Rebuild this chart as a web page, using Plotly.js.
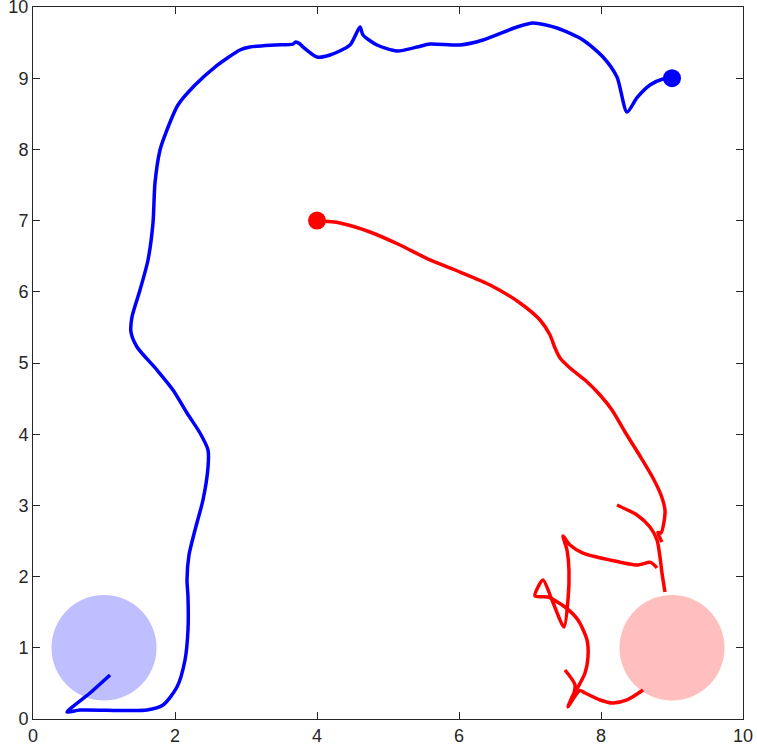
<!DOCTYPE html>
<html>
<head>
<meta charset="utf-8">
<script src="https://cdn.plot.ly/plotly-3.0.1.min.js"></script>
<style>
  body { margin: 0; background: #fff; }
  #chart { width: 757px; height: 749px; }
</style>
</head>
<body>
<div id="chart"></div>
<script>
// blue robot path, from the goal area up to its current spot
let blueX = [1.085, 0.803, 0.479, 0.662, 1.606, 1.831, 2.028, 2.141, 2.183, 2.183, 2.169, 2.197, 2.282, 2.394, 2.465, 2.465, 2.352, 2.169, 1.972, 1.746, 1.465, 1.380, 1.394, 1.507, 1.620, 1.690, 1.718, 1.789, 1.859, 2.042, 2.282, 2.563, 2.915, 3.056, 3.408, 3.662, 3.70, 3.761, 3.803, 4.0, 4.183, 4.465, 4.606, 4.648, 4.845, 5.127, 5.408, 5.592, 6.014, 6.338, 6.817, 7.042, 7.380, 7.746, 8.028, 8.225, 8.366, 8.507, 8.690, 8.873, 9.0];
let blueY = [0.618, 0.365, 0.098, 0.126, 0.126, 0.197, 0.449, 0.829, 1.25, 1.713, 1.952, 2.303, 2.654, 3.076, 3.539, 3.778, 4.017, 4.298, 4.621, 4.902, 5.225, 5.435, 5.646, 6.025, 6.447, 6.966, 7.528, 7.992, 8.202, 8.624, 8.904, 9.157, 9.396, 9.438, 9.466, 9.480, 9.51, 9.48, 9.438, 9.298, 9.326, 9.466, 9.719, 9.607, 9.466, 9.382, 9.438, 9.480, 9.466, 9.537, 9.719, 9.775, 9.705, 9.537, 9.298, 9.017, 8.525, 8.726, 8.904, 8.989, 9.0];

// red robot path, pieces split by null
let redX = [4.0, 4.324, 4.746, 5.169, 5.592, 6.014, 6.437, 6.859, 7.141, 7.282, 7.352, 7.423, 7.563, 7.775, 7.986, 8.155, 8.338, 8.549, 8.732, 8.845, 8.901, 8.887, 8.845, 8.80, 8.859, null,
    8.225, 8.507, 8.690, 8.789, 8.831, 8.859, 8.901, null,
    8.789, 8.70, 8.507, 8.127, 7.746, 7.563, 7.465, 7.521, 7.549, 7.535, 7.479, 7.310, 7.183, 7.070, 7.254, 7.493, 7.676, 7.803, 7.817, 7.775, 7.676, 7.592, 7.535, null,
    7.493, 7.634, 7.600, 7.535, 7.70, 7.775, 7.986, 8.169, 8.366, 8.592];
let redY = [7.0, 6.966, 6.840, 6.657, 6.447, 6.278, 6.096, 5.843, 5.604, 5.393, 5.211, 5.070, 4.930, 4.761, 4.551, 4.340, 4.031, 3.694, 3.385, 3.146, 2.935, 2.767, 2.612, 2.62, 2.486, null,
    3.006, 2.865, 2.697, 2.514, 2.275, 2.051, 1.784, null,
    2.121, 2.20, 2.163, 2.233, 2.331, 2.444, 2.570, 2.374, 2.093, 1.671, 1.292, 1.671, 1.952, 1.728, 1.713, 1.573, 1.390, 1.110, 0.871, 0.646, 0.449, 0.309, 0.169, null,
    0.688, 0.478, 0.30, 0.169, 0.40, 0.365, 0.267, 0.225, 0.267, 0.407];

// current positions and goal areas
let dotX = [9, 4];
let dotY = [9, 7];
let goalX = [1, 9];
let goalY = [1, 1];
let goalR = 0.74;

let goalColors = ['rgb(191,191,255)', 'rgb(255,191,191)'];
let goalShapes = goalX.map(function (gx, i) {
    return {
        type: 'circle',
        xref: 'x', yref: 'y',
        x0: gx - goalR, x1: gx + goalR,
        y0: goalY[i] - goalR, y1: goalY[i] + goalR,
        fillcolor: goalColors[i],
        line: { width: 0 },
        layer: 'below'
    };
});

let graphData = [
    {
        x: blueX, y: blueY, type: 'scatter', mode: 'lines',
        line: { color: 'rgb(0,0,255)', width: 3.5, shape: 'spline', smoothing: 0.7 }
    },
    {
        x: redX, y: redY, type: 'scatter', mode: 'lines', connectgaps: false,
        line: { color: 'rgb(255,0,0)', width: 3.5, shape: 'spline', smoothing: 0.7 }
    },
    {
        x: [dotX[0]], y: [dotY[0]], type: 'scatter', mode: 'markers',
        marker: { color: 'rgb(0,0,255)', size: 18 }
    },
    {
        x: [dotX[1]], y: [dotY[1]], type: 'scatter', mode: 'markers',
        marker: { color: 'rgb(255,0,0)', size: 18 }
    }
];

let axisStyle = {
    range: [0, 10],
    dtick: 2,
    ticks: 'inside',
    ticklen: 7,
    tickcolor: '#262626',
    showline: true,
    linecolor: '#262626',
    linewidth: 1,
    mirror: 'ticks',
    showgrid: false,
    zeroline: false,
    ticklabeloverflow: 'allow',
    tickfont: { family: 'Liberation Sans, Arial, sans-serif', size: 18, color: '#262626' }
};

let layout = {
    width: 757,
    height: 749,
    showlegend: false,
    margin: { l: 33, r: 14, t: 7, b: 30 },
    paper_bgcolor: '#fff',
    plot_bgcolor: '#fff',
    xaxis: Object.assign({}, axisStyle),
    yaxis: Object.assign({}, axisStyle, { dtick: 1 }),
    shapes: goalShapes
};

Plotly.newPlot('chart', graphData, layout, { displayModeBar: false, staticPlot: true });
</script>
</body>
</html>
